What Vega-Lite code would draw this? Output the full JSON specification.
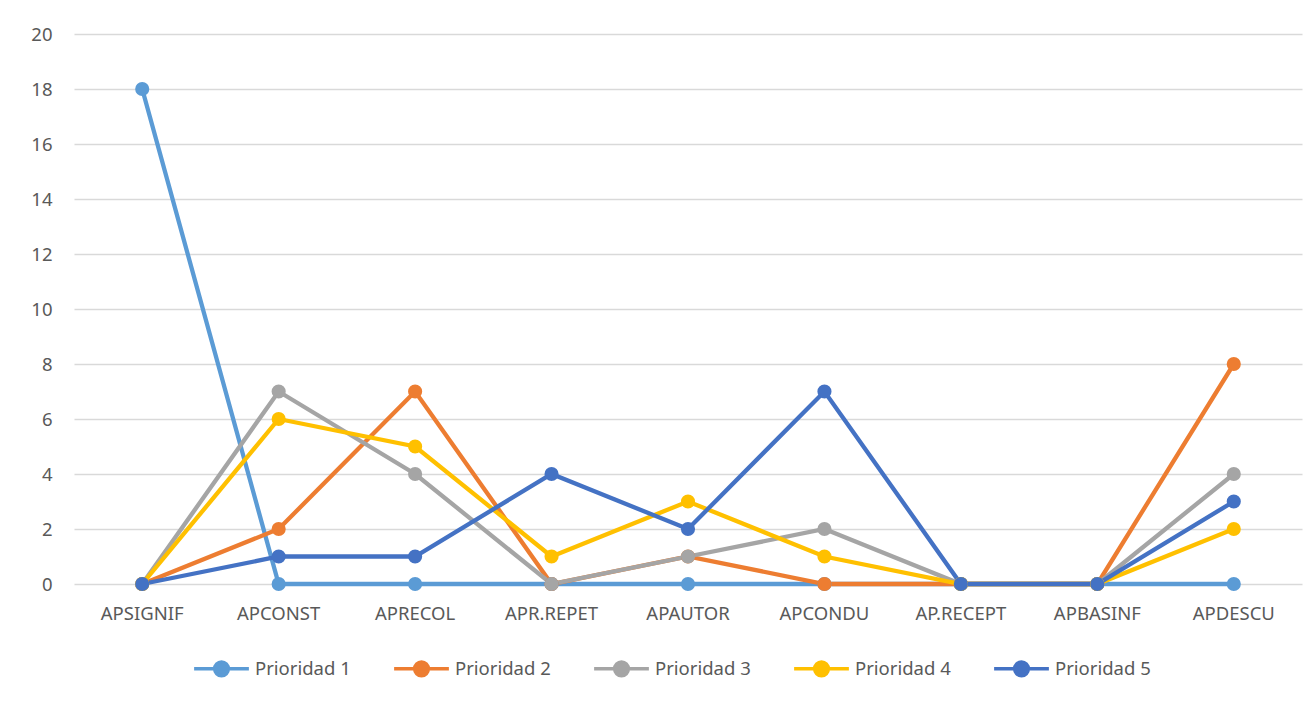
{
  "$schema": "https://vega.github.io/schema/vega-lite/v6.json",
  "autosize": {"type": "none"},
  "width": 1228,
  "height": 550,
  "padding": {"left": 74, "top": 34, "right": 14, "bottom": 119},
  "background": "white",
  "config": {
    "view": {"stroke": null},
    "font": "Noto Sans",
    "axis": {"labelFont": "Noto Sans", "labelColor": "#595959", "labelFontSize": 18.5},
    "legend": {"labelFont": "Noto Sans", "labelColor": "#595959", "labelFontSize": 18.5}
  },
  "data": {
    "values": [
      {"cat": "APSIGNIF", "serie": "Prioridad 1", "v": 18},
      {"cat": "APCONST", "serie": "Prioridad 1", "v": 0},
      {"cat": "APRECOL", "serie": "Prioridad 1", "v": 0},
      {"cat": "APR.REPET", "serie": "Prioridad 1", "v": 0},
      {"cat": "APAUTOR", "serie": "Prioridad 1", "v": 0},
      {"cat": "APCONDU", "serie": "Prioridad 1", "v": 0},
      {"cat": "AP.RECEPT", "serie": "Prioridad 1", "v": 0},
      {"cat": "APBASINF", "serie": "Prioridad 1", "v": 0},
      {"cat": "APDESCU", "serie": "Prioridad 1", "v": 0},
      {"cat": "APSIGNIF", "serie": "Prioridad 2", "v": 0},
      {"cat": "APCONST", "serie": "Prioridad 2", "v": 2},
      {"cat": "APRECOL", "serie": "Prioridad 2", "v": 7},
      {"cat": "APR.REPET", "serie": "Prioridad 2", "v": 0},
      {"cat": "APAUTOR", "serie": "Prioridad 2", "v": 1},
      {"cat": "APCONDU", "serie": "Prioridad 2", "v": 0},
      {"cat": "AP.RECEPT", "serie": "Prioridad 2", "v": 0},
      {"cat": "APBASINF", "serie": "Prioridad 2", "v": 0},
      {"cat": "APDESCU", "serie": "Prioridad 2", "v": 8},
      {"cat": "APSIGNIF", "serie": "Prioridad 3", "v": 0},
      {"cat": "APCONST", "serie": "Prioridad 3", "v": 7},
      {"cat": "APRECOL", "serie": "Prioridad 3", "v": 4},
      {"cat": "APR.REPET", "serie": "Prioridad 3", "v": 0},
      {"cat": "APAUTOR", "serie": "Prioridad 3", "v": 1},
      {"cat": "APCONDU", "serie": "Prioridad 3", "v": 2},
      {"cat": "AP.RECEPT", "serie": "Prioridad 3", "v": 0},
      {"cat": "APBASINF", "serie": "Prioridad 3", "v": 0},
      {"cat": "APDESCU", "serie": "Prioridad 3", "v": 4},
      {"cat": "APSIGNIF", "serie": "Prioridad 4", "v": 0},
      {"cat": "APCONST", "serie": "Prioridad 4", "v": 6},
      {"cat": "APRECOL", "serie": "Prioridad 4", "v": 5},
      {"cat": "APR.REPET", "serie": "Prioridad 4", "v": 1},
      {"cat": "APAUTOR", "serie": "Prioridad 4", "v": 3},
      {"cat": "APCONDU", "serie": "Prioridad 4", "v": 1},
      {"cat": "AP.RECEPT", "serie": "Prioridad 4", "v": 0},
      {"cat": "APBASINF", "serie": "Prioridad 4", "v": 0},
      {"cat": "APDESCU", "serie": "Prioridad 4", "v": 2},
      {"cat": "APSIGNIF", "serie": "Prioridad 5", "v": 0},
      {"cat": "APCONST", "serie": "Prioridad 5", "v": 1},
      {"cat": "APRECOL", "serie": "Prioridad 5", "v": 1},
      {"cat": "APR.REPET", "serie": "Prioridad 5", "v": 4},
      {"cat": "APAUTOR", "serie": "Prioridad 5", "v": 2},
      {"cat": "APCONDU", "serie": "Prioridad 5", "v": 7},
      {"cat": "AP.RECEPT", "serie": "Prioridad 5", "v": 0},
      {"cat": "APBASINF", "serie": "Prioridad 5", "v": 0},
      {"cat": "APDESCU", "serie": "Prioridad 5", "v": 3}
    ]
  },
  "encoding": {
    "x": {
      "field": "cat", "type": "nominal", "sort": null, "title": null,
      "scale": {"type": "band", "paddingInner": 0, "paddingOuter": 0},
      "axis": {"labelAngle": 0, "domain": false, "ticks": false, "grid": false, "labelPadding": 20}
    },
    "y": {
      "field": "v", "type": "quantitative", "title": null,
      "scale": {"domain": [0, 20], "nice": false},
      "axis": {"values": [0, 2, 4, 6, 8, 10, 12, 14, 16, 18, 20], "domain": false, "ticks": false, "gridColor": "#D9D9D9", "gridWidth": 1.3, "labelPadding": 22}
    },
    "color": {
      "field": "serie", "type": "nominal", "title": null,
      "scale": {"domain": ["Prioridad 1", "Prioridad 2", "Prioridad 3", "Prioridad 4", "Prioridad 5"], "range": ["#5B9BD5", "#ED7D31", "#A5A5A5", "#FFC000", "#4472C4"]},
      "legend": {
        "orient": "none", "direction": "horizontal", "legendX": 118, "legendY": 605,
        "symbolType": "M -1 0 L 1 0 M -0.25 0 A 0.25 0.25 0 1 1 0.25 0 A 0.25 0.25 0 1 1 -0.25 0 Z",
        "symbolSize": 3000, "symbolStrokeWidth": 3.5, "labelOffset": 4, "columnPadding": 36, "symbolOpacity": 1
      }
    }
  },
  "mark": {"type": "line", "strokeWidth": 4.3, "point": {"filled": true, "size": 200, "opacity": 1}}
}
